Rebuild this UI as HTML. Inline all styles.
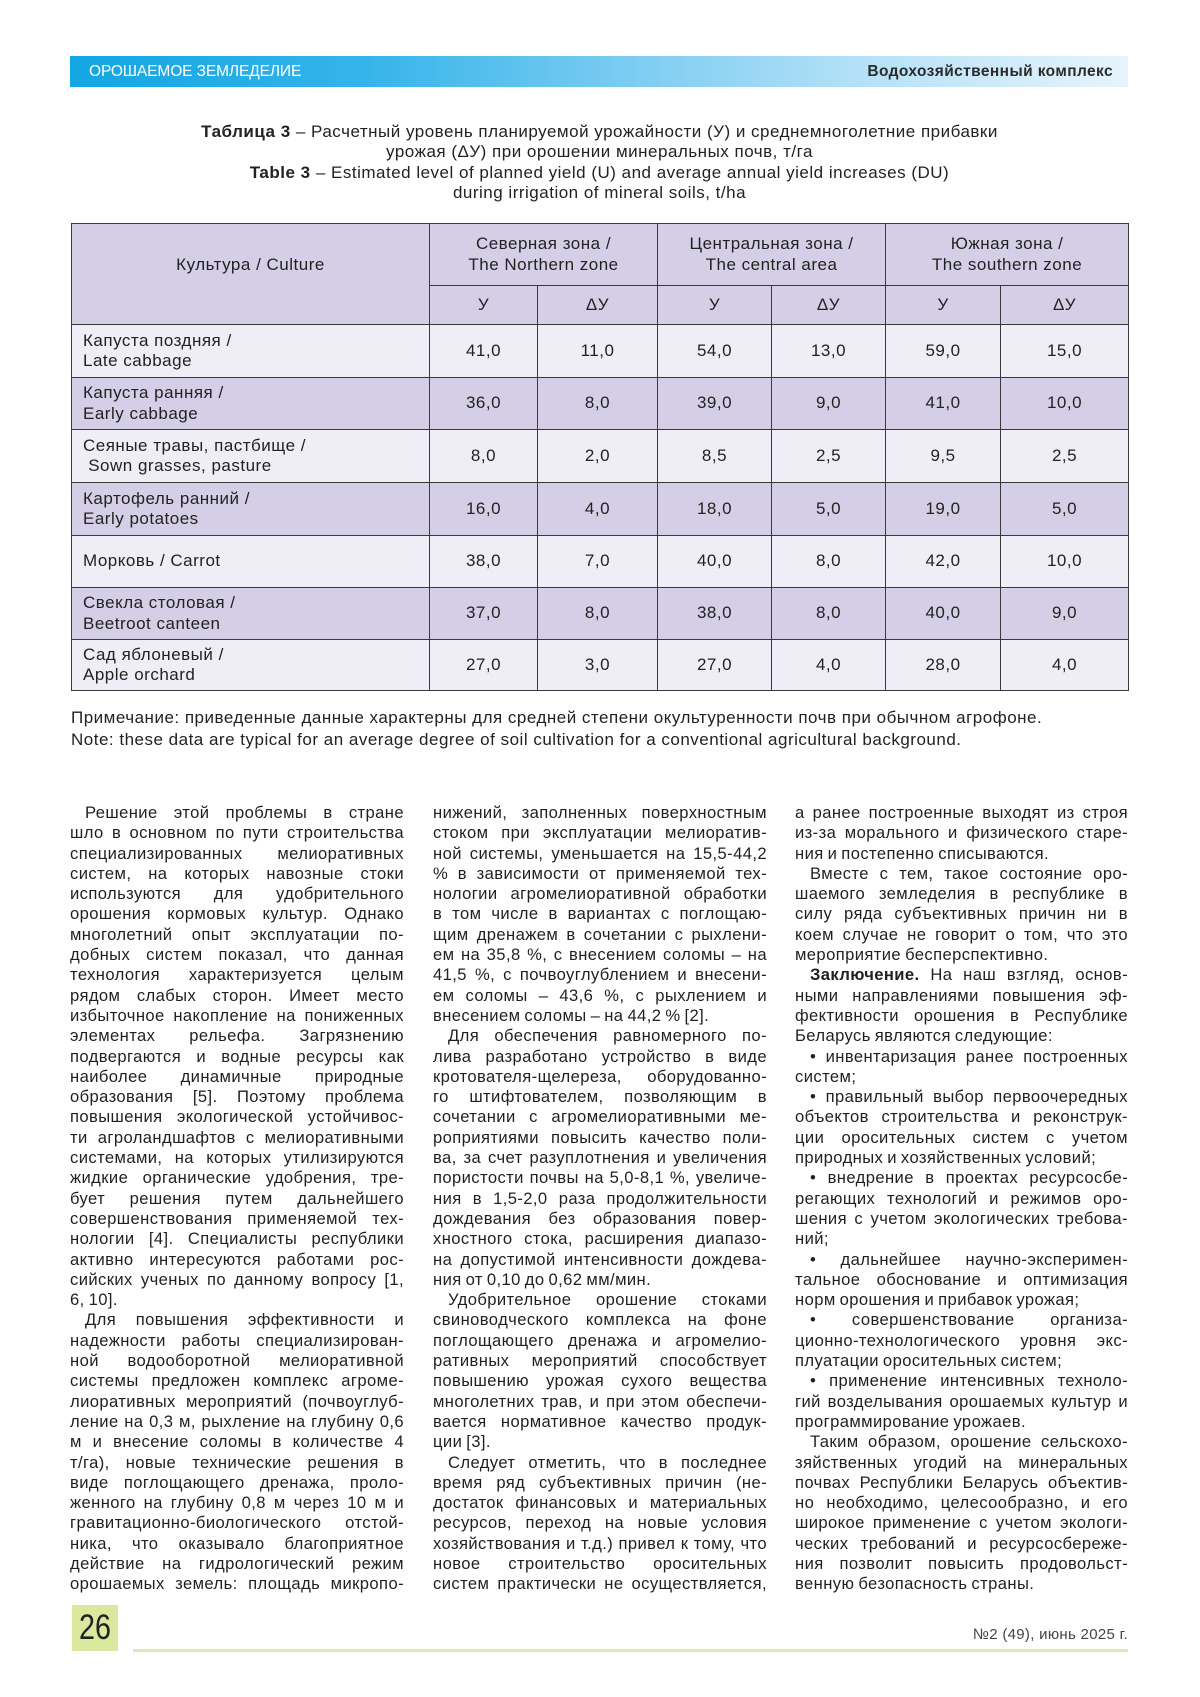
<!DOCTYPE html>
<html>
<head>
<meta charset="utf-8">
<style>
  html, body { margin:0; padding:0; }
  body { width:1200px; height:1697px; position:relative; overflow:hidden; background:#ffffff;
         font-family:"Liberation Sans", "Noto Sans CJK SC", sans-serif; color:#231f20; }
  .bar { position:absolute; left:70px; top:56px; width:1058px; height:31px;
         background:linear-gradient(to right, #12a6e2 0%, #35b4ea 28%, #79cbf1 52%, #b5e1f7 75%, #e6f4fc 100%); }
  .bar .lt { position:absolute; left:19px; top:0; line-height:31px; font-size:15.5px; color:#ffffff; letter-spacing:-0.1px; }
  .bar .rt { position:absolute; right:15px; top:0; line-height:31px; font-size:15.5px; font-weight:bold; color:#2b2b2b; letter-spacing:0.4px; }
  .title { position:absolute; left:71px; top:122px; width:1057px; text-align:center; font-size:17px; line-height:20.3px; color:#222; letter-spacing:0.5px; }
  table.t { position:absolute; left:71px; top:223px; width:1057px; border-collapse:collapse; table-layout:fixed;
            font-size:17px; color:#222; letter-spacing:0.5px; }
  table.t td { border:1.5px solid #3a3a3a; padding:0; text-align:center; vertical-align:middle; line-height:20.5px; }
  table.t tr.h td { background:#d4cfe6; }
  table.t tr.a td { background:#efedf5; }
  table.t tr.b td { background:#d4cfe6; }
  table.t td.cu { text-align:left; padding-left:11px; }
  .note { position:absolute; left:71px; top:707px; font-size:17px; line-height:21.5px; color:#222; white-space:nowrap; letter-spacing:0.5px; }
  .col { position:absolute; top:803px; font-size:16.6px; line-height:20.3px; color:#231f20; letter-spacing:0.4px; word-spacing:-3px; }
  .col div { height:20.3px; text-align:justify; text-align-last:justify; }
  .col div.l { text-align-last:left; word-spacing:-1px; }
  .col div.i { text-indent:15px; }
  .pg { position:absolute; left:72px; top:1605px; width:46px; height:46px; background:#dae99d; }
  .pg span { position:absolute; left:0; top:0; width:46px; height:46px; line-height:46px; text-align:center;
             font-size:35px; color:#222; transform:scaleX(0.82); }
  .gl { position:absolute; left:133px; top:1649px; width:995px; height:3px; background:#dcebb0; }
  .ft { position:absolute; right:72px; top:1625px; font-size:15px; line-height:20px; color:#444; white-space:nowrap; letter-spacing:0.3px; }
</style>
</head>
<body>

<div class="bar">
  <div class="lt">ОРОШАЕМОЕ ЗЕМЛЕДЕЛИЕ</div>
  <div class="rt">Водохозяйственный комплекс</div>
</div>

<div class="title">
  <b>Таблица 3</b> – Расчетный уровень планируемой урожайности (У) и среднемноголетние прибавки<br>
  урожая (ΔУ) при орошении минеральных почв, т/га<br>
  <b>Table 3</b> – Estimated level of planned yield (U) and average annual yield increases (DU)<br>
  during irrigation of mineral soils, t/ha
</div>

<table class="t">
  <colgroup>
    <col style="width:358px"><col style="width:108px"><col style="width:120px">
    <col style="width:114px"><col style="width:114px"><col style="width:115px"><col style="width:128px">
  </colgroup>
  <tr class="h" style="height:62px">
    <td rowspan="2" style="padding-bottom:18px">Культура / Culture</td>
    <td colspan="2">Северная зона /<br>The Northern zone</td>
    <td colspan="2">Центральная зона /<br>The central area</td>
    <td colspan="2">Южная зона /<br>The southern zone</td>
  </tr>
  <tr class="h" style="height:39px">
    <td>У</td><td>ΔУ</td><td>У</td><td>ΔУ</td><td>У</td><td>ΔУ</td>
  </tr>
  <tr class="a" style="height:53px">
    <td class="cu">Капуста поздняя /<br>Late cabbage</td>
    <td>41,0</td><td>11,0</td><td>54,0</td><td>13,0</td><td>59,0</td><td>15,0</td>
  </tr>
  <tr class="b" style="height:52px">
    <td class="cu">Капуста ранняя /<br>Early cabbage</td>
    <td>36,0</td><td>8,0</td><td>39,0</td><td>9,0</td><td>41,0</td><td>10,0</td>
  </tr>
  <tr class="a" style="height:53px">
    <td class="cu">Сеяные травы, пастбище /<br>&nbsp;Sown grasses, pasture</td>
    <td>8,0</td><td>2,0</td><td>8,5</td><td>2,5</td><td>9,5</td><td>2,5</td>
  </tr>
  <tr class="b" style="height:53px">
    <td class="cu">Картофель ранний /<br>Early potatoes</td>
    <td>16,0</td><td>4,0</td><td>18,0</td><td>5,0</td><td>19,0</td><td>5,0</td>
  </tr>
  <tr class="a" style="height:52px">
    <td class="cu">Морковь / Carrot</td>
    <td>38,0</td><td>7,0</td><td>40,0</td><td>8,0</td><td>42,0</td><td>10,0</td>
  </tr>
  <tr class="b" style="height:52px">
    <td class="cu">Свекла столовая /<br>Beetroot canteen</td>
    <td>37,0</td><td>8,0</td><td>38,0</td><td>8,0</td><td>40,0</td><td>9,0</td>
  </tr>
  <tr class="a" style="height:51px">
    <td class="cu">Сад яблоневый /<br>Apple orchard</td>
    <td>27,0</td><td>3,0</td><td>27,0</td><td>4,0</td><td>28,0</td><td>4,0</td>
  </tr>
</table>

<div class="note">
  Примечание: приведенные данные характерны для средней степени окультуренности почв при обычном агрофоне.<br>
  Note: these data are typical for an average degree of soil cultivation for a conventional agricultural background.
</div>

<div class="col" style="left:70px; width:334px;">
  <div class="i">Решение этой проблемы в стране</div>
  <div>шло в основном по пути строительства</div>
  <div>специализированных мелиоративных</div>
  <div>систем, на которых навозные стоки</div>
  <div>используются для удобрительного</div>
  <div>орошения кормовых культур. Однако</div>
  <div>многолетний опыт эксплуатации по-</div>
  <div>добных систем показал, что данная</div>
  <div>технология характеризуется целым</div>
  <div>рядом слабых сторон. Имеет место</div>
  <div>избыточное накопление на пониженных</div>
  <div>элементах рельефа. Загрязнению</div>
  <div>подвергаются и водные ресурсы как</div>
  <div>наиболее динамичные природные</div>
  <div>образования [5]. Поэтому проблема</div>
  <div>повышения экологической устойчивос-</div>
  <div>ти агроландшафтов с мелиоративными</div>
  <div>системами, на которых утилизируются</div>
  <div>жидкие органические удобрения, тре-</div>
  <div>бует решения путем дальнейшего</div>
  <div>совершенствования применяемой тех-</div>
  <div>нологии [4]. Специалисты республики</div>
  <div>активно интересуются работами рос-</div>
  <div>сийских ученых по данному вопросу [1,</div>
  <div class="l">6, 10].</div>
  <div class="i">Для повышения эффективности и</div>
  <div>надежности работы специализирован-</div>
  <div>ной водооборотной мелиоративной</div>
  <div>системы предложен комплекс агроме-</div>
  <div>лиоративных мероприятий (почвоуглуб-</div>
  <div>ление на 0,3 м, рыхление на глубину 0,6</div>
  <div>м и внесение соломы в количестве 4</div>
  <div>т/га), новые технические решения в</div>
  <div>виде поглощающего дренажа, проло-</div>
  <div>женного на глубину 0,8 м через 10 м и</div>
  <div>гравитационно-биологического отстой-</div>
  <div>ника, что оказывало благоприятное</div>
  <div>действие на гидрологический режим</div>
  <div>орошаемых земель: площадь микропо-</div>
</div>

<div class="col" style="left:433px; width:334px;">
  <div>нижений, заполненных поверхностным</div>
  <div>стоком при эксплуатации мелиоратив-</div>
  <div>ной системы, уменьшается на 15,5-44,2</div>
  <div>% в зависимости от применяемой тех-</div>
  <div>нологии агромелиоративной обработки</div>
  <div>в том числе в вариантах с поглощаю-</div>
  <div>щим дренажем в сочетании с рыхлени-</div>
  <div>ем на 35,8 %, с внесением соломы – на</div>
  <div>41,5 %, с почвоуглублением и внесени-</div>
  <div>ем соломы – 43,6 %, с рыхлением и</div>
  <div class="l">внесением соломы – на 44,2 % [2].</div>
  <div class="i">Для обеспечения равномерного по-</div>
  <div>лива разработано устройство в виде</div>
  <div>кротователя-щелереза, оборудованно-</div>
  <div>го штифтователем, позволяющим в</div>
  <div>сочетании с агромелиоративными ме-</div>
  <div>роприятиями повысить качество поли-</div>
  <div>ва, за счет разуплотнения и увеличения</div>
  <div>пористости почвы на 5,0-8,1 %, увеличе-</div>
  <div>ния в 1,5-2,0 раза продолжительности</div>
  <div>дождевания без образования повер-</div>
  <div>хностного стока, расширения диапазо-</div>
  <div>на допустимой интенсивности дождева-</div>
  <div class="l">ния от 0,10 до 0,62 мм/мин.</div>
  <div class="i">Удобрительное орошение стоками</div>
  <div>свиноводческого комплекса на фоне</div>
  <div>поглощающего дренажа и агромелио-</div>
  <div>ративных мероприятий способствует</div>
  <div>повышению урожая сухого вещества</div>
  <div>многолетних трав, и при этом обеспечи-</div>
  <div>вается нормативное качество продук-</div>
  <div class="l">ции [3].</div>
  <div class="i">Следует отметить, что в последнее</div>
  <div>время ряд субъективных причин (не-</div>
  <div>достаток финансовых и материальных</div>
  <div>ресурсов, переход на новые условия</div>
  <div>хозяйствования и т.д.) привел к тому, что</div>
  <div>новое строительство оросительных</div>
  <div>систем практически не осуществляется,</div>
</div>

<div class="col" style="left:795px; width:333px;">
  <div>а ранее построенные выходят из строя</div>
  <div>из-за морального и физического старе-</div>
  <div class="l">ния и постепенно списываются.</div>
  <div class="i">Вместе с тем, такое состояние оро-</div>
  <div>шаемого земледелия в республике в</div>
  <div>силу ряда субъективных причин ни в</div>
  <div>коем случае не говорит о том, что это</div>
  <div class="l">мероприятие бесперспективно.</div>
  <div class="i"><b>Заключение.</b> На наш взгляд, основ-</div>
  <div>ными направлениями повышения эф-</div>
  <div>фективности орошения в Республике</div>
  <div class="l">Беларусь являются следующие:</div>
  <div class="i">• инвентаризация ранее построенных</div>
  <div class="l">систем;</div>
  <div class="i">• правильный выбор первоочередных</div>
  <div>объектов строительства и реконструк-</div>
  <div>ции оросительных систем с учетом</div>
  <div class="l">природных и хозяйственных условий;</div>
  <div class="i">• внедрение в проектах ресурсосбе-</div>
  <div>регающих технологий и режимов оро-</div>
  <div>шения с учетом экологических требова-</div>
  <div class="l">ний;</div>
  <div class="i">• дальнейшее научно-эксперимен-</div>
  <div>тальное обоснование и оптимизация</div>
  <div class="l">норм орошения и прибавок урожая;</div>
  <div class="i">• совершенствование организа-</div>
  <div>ционно-технологического уровня экс-</div>
  <div class="l">плуатации оросительных систем;</div>
  <div class="i">• применение интенсивных техноло-</div>
  <div>гий возделывания орошаемых культур и</div>
  <div class="l">программирование урожаев.</div>
  <div class="i">Таким образом, орошение сельскохо-</div>
  <div>зяйственных угодий на минеральных</div>
  <div>почвах Республики Беларусь объектив-</div>
  <div>но необходимо, целесообразно, и его</div>
  <div>широкое применение с учетом экологи-</div>
  <div>ческих требований и ресурсосбереже-</div>
  <div>ния позволит повысить продовольст-</div>
  <div class="l">венную безопасность страны.</div>
</div>

<div class="pg"><span>26</span></div>
<div class="gl"></div>
<div class="ft">№2 (49), июнь 2025 г.</div>

</body>
</html>
